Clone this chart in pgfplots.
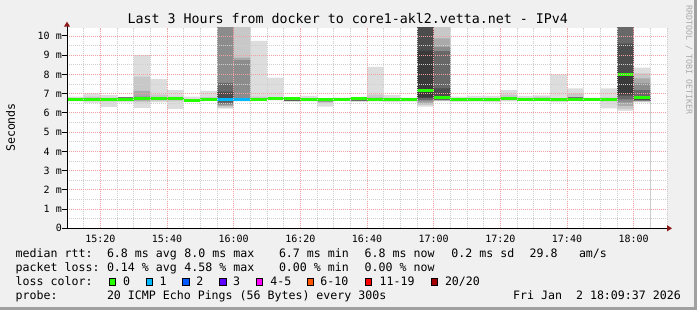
\documentclass[border=0pt]{standalone}
\usepackage{fontspec}
\setmainfont{DejaVu Sans Mono}
\usepackage{pgfplots}
\pgfplotsset{compat=1.18}
\usepackage{pgfplotstable}
\usetikzlibrary{arrows.meta}
\definecolor{bgc}{HTML}{F0F0F0}
\definecolor{framec}{HTML}{A0A0A0}
\definecolor{sc1}{HTML}{DDDDDD}
\definecolor{sc2}{HTML}{C8C8C8}
\definecolor{sc3}{HTML}{AAAAAA}
\definecolor{sc4}{HTML}{8C8C8C}
\definecolor{sc5}{HTML}{686868}
\definecolor{sc6}{HTML}{4C4C4C}
\definecolor{sc7}{HTML}{3A3A3A}
\definecolor{lc0}{HTML}{26FF00}
\definecolor{lc1}{HTML}{00B8FF}
\definecolor{lc2}{HTML}{0059FF}
\definecolor{lc3}{HTML}{5E00FF}
\definecolor{lc4}{HTML}{FF00FF}
\definecolor{lc6}{HTML}{FF5500}
\definecolor{lc11}{HTML}{FF0000}
\definecolor{lc20}{HTML}{A10000}
\definecolor{mgridc}{HTML}{F0A0A0}
\definecolor{gridc}{HTML}{CFCFCF}
\definecolor{arrowc}{HTML}{8B1A1A}
\definecolor{rrdc}{HTML}{AAAAAA}
\newcommand\lf{\fontsize{11.6bp}{14bp}\selectfont}
\newcommand\tf{\fontsize{10bp}{12bp}\selectfont}

% x = minutes after 15:00 (left edge of each 5-minute column)
% nested smoke bands a_k..b_k (k=1 outer/light ... 7 inner/dark); med = median rtt (ms)
\pgfplotstableread{
x a1 b1 a2 b2 a3 b3 a4 b4 a5 b5 a6 b6 a7 b7 med
10 6.60 6.84 6.65 6.78 6.72 6.72 6.72 6.72 6.72 6.72 6.72 6.72 6.72 6.72 6.72
15 6.52 7.02 6.62 6.85 6.68 6.78 6.73 6.73 6.73 6.73 6.73 6.73 6.73 6.73 6.72
20 6.30 6.92 6.60 6.80 6.72 6.72 6.72 6.72 6.72 6.72 6.72 6.72 6.72 6.72 6.72
25 6.55 6.82 6.65 6.80 6.76 6.80 6.76 6.80 6.76 6.80 6.78 6.78 6.78 6.78 6.69
30 6.25 9.00 6.55 7.88 6.62 7.15 6.68 6.85 6.75 6.75 6.75 6.75 6.75 6.75 6.73
35 6.55 7.76 6.63 6.95 6.75 6.75 6.75 6.75 6.75 6.75 6.75 6.75 6.75 6.75 6.73
40 6.20 7.18 6.60 6.85 6.72 6.72 6.72 6.72 6.72 6.72 6.72 6.72 6.72 6.72 6.74
45 6.60 6.85 6.70 6.70 6.70 6.70 6.70 6.70 6.70 6.70 6.70 6.70 6.70 6.70 6.67
50 6.62 7.15 6.66 6.82 6.72 6.72 6.72 6.72 6.72 6.72 6.72 6.72 6.72 6.72 6.72
55 6.22 12 6.27 12 6.35 12 6.42 12 6.50 7.56 6.60 7.10 6.80 6.80 6.70
60 6.60 12 6.62 12 6.64 8.88 6.66 8.74 6.72 6.72 6.72 6.72 6.72 6.72 6.70
65 6.65 9.75 6.68 6.85 6.74 6.74 6.74 6.74 6.74 6.74 6.74 6.74 6.74 6.74 6.72
70 6.65 7.83 6.74 6.74 6.74 6.74 6.74 6.74 6.74 6.74 6.74 6.74 6.74 6.74 6.74
75 6.58 6.80 6.60 6.66 6.60 6.66 6.60 6.66 6.60 6.66 6.63 6.63 6.63 6.63 6.73
80 6.60 6.89 6.72 6.72 6.72 6.72 6.72 6.72 6.72 6.72 6.72 6.72 6.72 6.72 6.72
85 6.32 6.75 6.52 6.70 6.58 6.63 6.58 6.63 6.58 6.63 6.60 6.60 6.60 6.60 6.68
90 6.65 6.80 6.72 6.72 6.72 6.72 6.72 6.72 6.72 6.72 6.72 6.72 6.72 6.72 6.72
95 6.58 6.83 6.60 6.65 6.60 6.65 6.60 6.65 6.60 6.65 6.62 6.62 6.62 6.62 6.73
100 6.60 8.39 6.65 6.95 6.68 6.80 6.74 6.74 6.74 6.74 6.74 6.74 6.74 6.74 6.72
105 6.55 6.93 6.62 6.80 6.62 6.66 6.62 6.66 6.62 6.66 6.64 6.64 6.64 6.64 6.72
110 6.58 6.80 6.68 6.68 6.68 6.68 6.68 6.68 6.68 6.68 6.68 6.68 6.68 6.68 6.68
115 6.32 12 6.40 12 6.50 12 6.60 12 6.68 12 6.78 12 6.80 9.24 7.14
120 6.60 12 6.62 12 6.64 9.87 6.66 9.43 6.68 9.21 6.70 7.27 6.80 6.80 6.78
125 6.58 6.84 6.60 6.65 6.60 6.65 6.60 6.65 6.60 6.65 6.62 6.62 6.62 6.62 6.72
130 6.58 6.89 6.72 6.72 6.72 6.72 6.72 6.72 6.72 6.72 6.72 6.72 6.72 6.72 6.72
135 6.55 6.88 6.62 6.66 6.62 6.66 6.62 6.66 6.62 6.66 6.64 6.64 6.64 6.64 6.72
140 6.60 7.18 6.65 6.95 6.74 6.74 6.74 6.74 6.74 6.74 6.74 6.74 6.74 6.74 6.74
145 6.62 6.88 6.72 6.72 6.72 6.72 6.72 6.72 6.72 6.72 6.72 6.72 6.72 6.72 6.72
150 6.62 6.91 6.70 6.85 6.75 6.75 6.75 6.75 6.75 6.75 6.75 6.75 6.75 6.75 6.72
155 6.55 8.00 6.72 6.72 6.72 6.72 6.72 6.72 6.72 6.72 6.72 6.72 6.72 6.72 6.72
160 6.62 7.28 6.70 7.00 6.78 6.82 6.78 6.82 6.78 6.82 6.80 6.80 6.80 6.80 6.72
165 6.62 6.80 6.69 6.69 6.69 6.69 6.69 6.69 6.69 6.69 6.69 6.69 6.69 6.69 6.69
170 6.23 7.27 6.60 6.80 6.72 6.72 6.72 6.72 6.72 6.72 6.72 6.72 6.72 6.72 6.72
175 6.10 12 6.20 12 6.35 12 6.55 12 6.70 12 6.90 9.60 7.00 7.95 8.00
180 6.55 8.35 6.58 8.05 6.60 7.79 6.62 7.53 6.64 7.18 6.66 6.84 6.75 6.75 6.79
185 6.55 8.35 6.58 8.05 6.60 7.79 6.62 7.53 6.64 7.18 6.66 6.84 6.75 6.75 6.79
}\smoke

\begin{document}
\begin{tikzpicture}
\fill[bgc] (0,0) rectangle (697bp,310bp);
\fill[framec] (694bp,0) rectangle (697bp,310bp);
\fill[framec] (0,0) rectangle (697bp,3bp);

\begin{axis}[
  at={(67bp,81.7bp)}, anchor=south west,
  width=600bp, height=200.6bp, scale only axis,
  xmin=10, xmax=190, ymin=0, ymax=10.43,
  axis background/.style={fill=white},
  axis on top,
  axis x line=bottom, axis y line=left,
  axis line style={line width=1bp, black},
  x axis line style={-{Triangle[length=5bp,width=6bp,color=arrowc]}, shorten >=-5bp},
  y axis line style={-{Triangle[length=5bp,width=6bp,color=arrowc]}, shorten >=-6bp},
  xtick={20,40,...,180},
  xticklabels={15:20,15:40,16:00,16:20,16:40,17:00,17:20,17:40,18:00},
  minor xtick={10,15,25,30,35,45,50,55,65,70,75,85,90,95,105,110,115,125,130,135,145,150,155,165,170,175,185,190},
  ytick={0,1,...,10},
  yticklabels={0,1 m,2 m,3 m,4 m,5 m,6 m,7 m,8 m,9 m,10 m},
  minor ytick={0.5,1.5,...,9.5},
  grid=both,
  major grid style={mgridc, line width=0.8bp, dash pattern=on 1bp off 1bp},
  minor grid style={gridc, line width=0.8bp, dash pattern=on 1bp off 1bp},
  tick align=outside, major tick length=5bp, minor tick length=0pt,
  xtick style={draw=none},
  ytick style={black, line width=1bp},
  ticklabel style={font=\tf, inner sep=0pt},
  xticklabel style={anchor=base, yshift=-9.7bp},
  yticklabel style={anchor=east},
  every axis plot/.append style={forget plot},
]
% upper edges of the nested bands, outer to inner
\addplot[ybar interval, fill=sc1, draw=none] table[x=x, y=b1]{\smoke};
\addplot[ybar interval, fill=sc2, draw=none] table[x=x, y=b2]{\smoke};
\addplot[ybar interval, fill=sc3, draw=none] table[x=x, y=b3]{\smoke};
\addplot[ybar interval, fill=sc4, draw=none] table[x=x, y=b4]{\smoke};
\addplot[ybar interval, fill=sc5, draw=none] table[x=x, y=b5]{\smoke};
\addplot[ybar interval, fill=sc6, draw=none] table[x=x, y=b6]{\smoke};
\addplot[ybar interval, fill=sc7, draw=none] table[x=x, y=b7]{\smoke};
% lower edges of the nested bands, inner to outer
\addplot[ybar interval, fill=sc6, draw=none] table[x=x, y=a7]{\smoke};
\addplot[ybar interval, fill=sc5, draw=none] table[x=x, y=a6]{\smoke};
\addplot[ybar interval, fill=sc4, draw=none] table[x=x, y=a5]{\smoke};
\addplot[ybar interval, fill=sc3, draw=none] table[x=x, y=a4]{\smoke};
\addplot[ybar interval, fill=sc2, draw=none] table[x=x, y=a3]{\smoke};
\addplot[ybar interval, fill=sc1, draw=none] table[x=x, y=a2]{\smoke};
\addplot[ybar interval, fill=white, draw=none] table[x=x, y=a1]{\smoke};
% median rtt coloured by loss
\addplot[lc0, line width=3bp, jump mark left] table[x=x, y=med]{\smoke};
\addplot[lc1, line width=3bp, jump mark left] coordinates {(55,6.70) (60,6.70) (65,6.70)};
\end{axis}

\tikzset{t/.style={inner sep=0pt, anchor=base west, font=\lf}}
% title
\node[inner sep=0pt, anchor=base, font=\fontsize{13.3bp}{16bp}\selectfont] at (347.8bp,286bp) {Last 3 Hours from docker to core1-akl2.vetta.net - IPv4};
% y label
\node[inner sep=0pt, rotate=90, font=\lf] at (10.5bp,182.5bp) {Seconds};
% watermark
\node[inner sep=0pt, rotate=-90, font=\fontsize{8.3bp}{10bp}\selectfont, text=rrdc] at (689bp,250bp) {RRDTOOL / TOBI OETIKER};
% legend line 1
\node[t] at (15.5bp,52bp) {median rtt:};
\node[t] at (106.8bp,52bp) {6.8 ms avg};
\node[t] at (184.2bp,52bp) {8.0 ms max};
\node[t] at (278.8bp,52bp) {6.7 ms min};
\node[t] at (364.5bp,52bp) {6.8 ms now};
\node[t] at (451.2bp,52bp) {0.2 ms sd};
\node[t] at (529.5bp,52bp) {29.8};
\node[t] at (578.8bp,52bp) {am/s};
% legend line 2
\node[t] at (15.5bp,38.7bp) {packet loss:};
\node[t] at (106.8bp,38.7bp) {0.14 \% avg};
\node[t] at (184.2bp,38.7bp) {4.58 \% max};
\node[t] at (278.8bp,38.7bp) {0.00 \% min};
\node[t] at (364.5bp,38.7bp) {0.00 \% now};
% legend line 3
\node[t] at (15.5bp,24.3bp) {loss color:};
\foreach \bx/\lx/\c/\lab in {108.7/122.8/lc0/0, 145.7/159.5/lc1/1, 182.3/196.2/lc2/2, 219.3/232.8/lc3/3, 256/270.2/lc4/4-5, 306.7/320.2/lc6/6-10, 365/379.5/lc11/11-19, 430.7/444.8/lc20/{20/20}}{
  \filldraw[fill=\c, draw=black, line width=1bp] (\bx bp+0.5bp,24.8bp) rectangle (\bx bp+6.8bp,31.2bp);
  \node[t] at (\lx bp,24.3bp) {\lab};
}
% legend line 4
\node[t] at (15.5bp,11bp) {probe:};
\node[t] at (106.8bp,11bp) {20 ICMP Echo Pings (56 Bytes) every 300s};
\node[t] at (513bp,11bp) {Fri Jan\ \ 2 18:09:37 2026};
\pgfresetboundingbox
\useasboundingbox (0,0) rectangle (697bp,310bp);
\end{tikzpicture}
\end{document}
